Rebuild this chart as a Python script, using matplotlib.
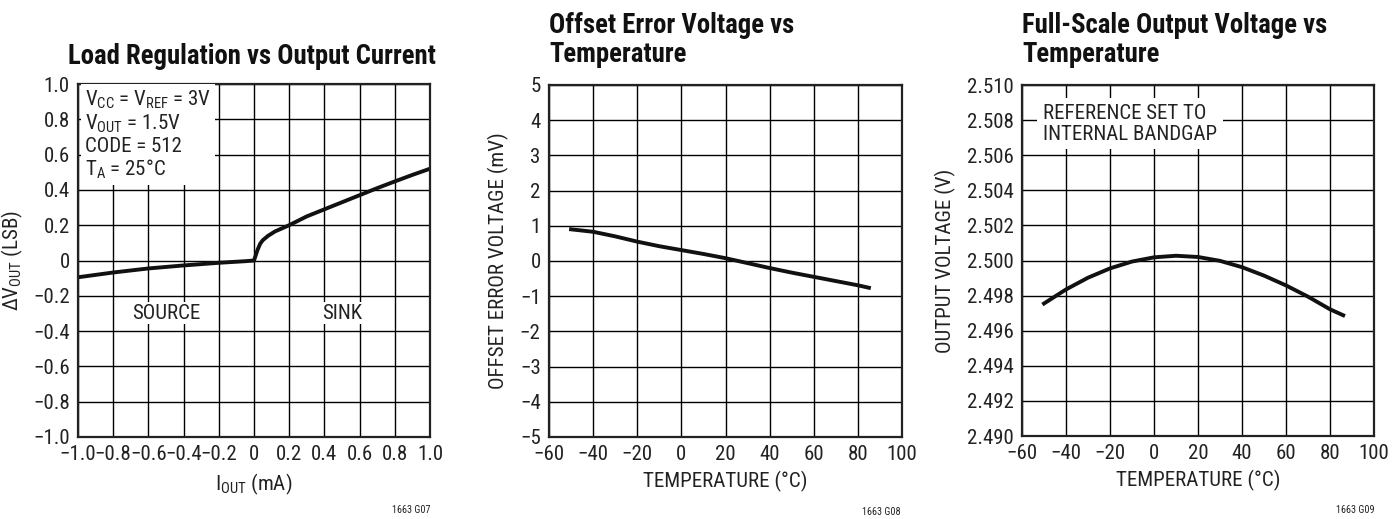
import numpy as np
import matplotlib
matplotlib.use('Agg')
import matplotlib.pyplot as plt
from matplotlib import font_manager as fm
from matplotlib.ticker import FormatStrFormatter

# pick a narrow sans font if one is installed
names = {f.name for f in fm.fontManager.ttflist}
font = 'DejaVu Sans'
stretch = 'normal'
for cand in ['Liberation Sans Narrow', 'Roboto Condensed', 'DejaVu Sans Condensed',
             'Open Sans Condensed', 'Noto Sans Condensed']:
    if cand in names:
        font = cand
        break
else:
    path = fm.findfont(fm.FontProperties(family='DejaVu Sans', stretch='condensed'))
    if 'Condensed' in path:
        stretch = 'condensed'

plt.rcParams['font.family'] = [font, 'DejaVu Sans']
plt.rcParams['font.stretch'] = stretch
plt.rcParams['mathtext.fontset'] = 'custom'
plt.rcParams['mathtext.rm'] = font
plt.rcParams['mathtext.it'] = font
plt.rcParams['mathtext.default'] = 'regular'

# Load regulation vs output current
iout_ma = [-1.0, -0.8, -0.6, -0.4, -0.2, -0.05, 0.0, 0.01, 0.02, 0.035, 0.05, 0.08, 0.12,
           0.2, 0.3, 0.4, 0.5, 0.6, 0.7, 0.8, 0.9, 1.0]
dvout_lsb = [-0.095, -0.068, -0.045, -0.028, -0.013, -0.004, 0.0, 0.03, 0.06, 0.095, 0.115,
             0.14, 0.165, 0.2, 0.25, 0.29, 0.33, 0.37, 0.41, 0.448, 0.485, 0.52]

# Offset error voltage vs temperature
temp_off = [-50, -40, -30, -20, -10, 0, 10, 20, 30, 40, 50, 60, 70, 80, 85]
offset_mv = [0.9, 0.83, 0.7, 0.55, 0.42, 0.31, 0.2, 0.08, -0.06, -0.2, -0.33, -0.45, -0.57,
             -0.69, -0.76]

# Full-scale output voltage vs temperature
temp_fs = [-50, -40, -30, -20, -10, 0, 10, 20, 30, 40, 50, 60, 70, 80, 86]
vout_fs = [2.49755, 2.49835, 2.49902, 2.49955, 2.49994, 2.50018, 2.50027, 2.50020, 2.49998,
           2.49962, 2.49914, 2.49858, 2.49794, 2.49722, 2.49688]

lsb_ticks = ['−1.0', '−0.8', '−0.6', '−0.4', '−0.2', '0', '0.2', '0.4', '0.6', '0.8', '1.0']

FW, FH = 1392, 519
fig = plt.figure(figsize=(FW / 100, FH / 100), dpi=100)
renderer = fig.canvas.get_renderer()


def fit_size(text, target_px, weight='normal'):
    # font size (pt) that makes text span target_px wide
    t = fig.text(0, 0, text, fontsize=10, fontweight=weight)
    w = t.get_window_extent(renderer).width
    t.remove()
    return 10 * target_px / w


TICK = fit_size('−1.0', 33) * 1.1
LAB = fit_size('TEMPERATURE (°C)', 150) * 1.1
TITLE = fit_size('Load Regulation vs Output Current', 353, 'bold') * 1.04
NOTE = fit_size('1663 G07', 38)

ink = '#222222'
lab = dict(fontsize=LAB, color=ink)
txt = dict(fontsize=TICK, color=ink)
title_kw = dict(fontsize=TITLE, fontweight='bold', color='#111111')


def make_axes(left_px, right_px, top_px, bottom_px):
    ax = fig.add_axes([left_px / FW, 1 - bottom_px / FH,
                       (right_px - left_px) / FW, (bottom_px - top_px) / FH])
    ax.grid(True, color='black', lw=1.0)
    ax.set_axisbelow(True)
    ax.tick_params(length=0, labelsize=TICK, pad=6, colors=ink)
    for s in ax.spines.values():
        s.set_linewidth(1.6)
        s.set_color(ink)
    return ax


# Panel 1
ax1 = make_axes(78, 430, 84, 437)
ax1.plot(iout_ma, dvout_lsb, color='#111111', lw=2.8)
ax1.set_xlim(-1, 1)
ax1.set_ylim(-1, 1)
ax1.set_xticks(np.arange(-1.0, 1.01, 0.2))
ax1.set_xticklabels(lsb_ticks)
ax1.set_yticks(np.arange(-1.0, 1.01, 0.2))
ax1.set_yticklabels(lsb_ticks)
ax1.set_xlabel('I$_{OUT}$ (mA)', labelpad=5, **lab)
ax1.set_ylabel('ΔV$_{OUT}$ (LSB)', labelpad=6, **lab)
ax1.text(-0.96, 0.975, 'V$_{CC}$ = V$_{REF}$ = 3V\nV$_{OUT}$ = 1.5V\nCODE = 512\nT$_{A}$ = 25°C',
         va='top', ha='left', linespacing=1.12,
         bbox=dict(facecolor='white', edgecolor='none', pad=3), **txt)
ax1.text(-0.5, -0.3, 'SOURCE', ha='center', va='center',
         bbox=dict(facecolor='white', edgecolor='none', pad=1), **txt)
ax1.text(0.5, -0.3, 'SINK', ha='center', va='center',
         bbox=dict(facecolor='white', edgecolor='none', pad=1), **txt)
fig.text(252 / FW, 1 - 56 / FH, 'Load Regulation vs Output Current', ha='center', va='center', **title_kw)
fig.text(430 / FW, 1 - 510 / FH, '1663 G07', ha='right', va='center', fontsize=NOTE, color=ink)

# Panel 2
ax2 = make_axes(549, 902, 85, 437)
ax2.plot(temp_off, offset_mv, color='#111111', lw=2.8)
ax2.set_xlim(-60, 100)
ax2.set_ylim(-5, 5)
ax2.set_xticks(range(-60, 101, 20))
ax2.set_yticks(range(-5, 6))
ax2.set_xlabel('TEMPERATURE (°C)', labelpad=5, **lab)
ax2.set_ylabel('OFFSET ERROR VOLTAGE (mV)', labelpad=8, **lab)
fig.text(549 / FW, 1 - 40 / FH, 'Offset Error Voltage vs\nTemperature', ha='left', va='center',
         linespacing=1.05, **title_kw)
fig.text(901 / FW, 1 - 512 / FH, '1663 G08', ha='right', va='center', fontsize=NOTE, color=ink)

# Panel 3
ax3 = make_axes(1022, 1374, 85, 436)
ax3.plot(temp_fs, vout_fs, color='#111111', lw=2.8)
ax3.set_xlim(-60, 100)
ax3.set_ylim(2.490, 2.510)
ax3.set_xticks(range(-60, 101, 20))
ax3.set_yticks(np.arange(2.490, 2.5101, 0.002))
ax3.yaxis.set_major_formatter(FormatStrFormatter('%.3f'))
ax3.set_xlabel('TEMPERATURE (°C)', labelpad=5, **lab)
ax3.set_ylabel('OUTPUT VOLTAGE (V)', labelpad=8, **lab)
ax3.text(-50.5, 2.5078, 'REFERENCE SET TO\nINTERNAL BANDGAP', ha='left', va='center',
         linespacing=1.12, bbox=dict(facecolor='white', edgecolor='none', pad=4), **txt)
fig.text(1022 / FW, 1 - 40 / FH, 'Full-Scale Output Voltage vs\nTemperature', ha='left', va='center',
         linespacing=1.05, **title_kw)
fig.text(1374 / FW, 1 - 510 / FH, '1663 G09', ha='right', va='center', fontsize=NOTE, color=ink)

fig.savefig('out.png', dpi=100)
